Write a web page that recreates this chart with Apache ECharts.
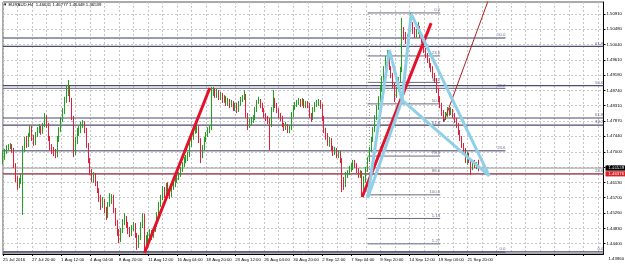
<!DOCTYPE html>
<html><head><meta charset="utf-8">
<script src="https://cdn.jsdelivr.net/npm/echarts@6/dist/echarts.min.js"></script>
<style>html,body{margin:0;padding:0;background:#fff}#c{width:625px;height:269px}</style>
</head><body><div id="c"></div>
<script>
const headerText = '\u25BC EURAUD,H4  1.46641 1.46777 1.46448 1.46539';
const timeLabels = ['25 Jul 2016','27 Jul 20:00','1 Aug 12:00','4 Aug 04:00','8 Aug 20:00','11 Aug 12:00','16 Aug 04:00','18 Aug 20:00','23 Aug 12:00','26 Aug 04:00','30 Aug 20:00','2 Sep 12:00','7 Sep 04:00','9 Sep 20:00','14 Sep 12:00','19 Sep 04:00','21 Sep 20:00'];
const barsPerTimeLabel = 16;
const barsPerGridLine = 8;
const slotCount = 332;
const priceTicks = [1.43960,1.44400,1.44830,1.45260,1.45700,1.46130,1.46570,1.47000,1.47440,1.47870,1.48310,1.48740,1.49180,1.49610,1.50040,1.50480,1.50910];
const priceMin = 1.44102, priceMax = 1.51250;

const opens = [1.4671,1.4683,1.4700,1.4711,1.4717,1.4719,1.4705,1.4663,1.4626,1.4606,
1.4620,1.4631,1.4705,1.4734,1.4719,1.4748,1.4768,1.4739,1.4725,1.4748,
1.4762,1.4768,1.4756,1.4776,1.4796,1.4776,1.4739,1.4714,1.4705,1.4700,
1.4691,1.4734,1.4762,1.4790,1.4813,1.4847,1.4870,1.4881,1.4847,1.4796,
1.4705,1.4734,1.4756,1.4762,1.4776,1.4782,1.4762,1.4719,1.4677,1.4643,
1.4626,1.4634,1.4612,1.4592,1.4569,1.4549,1.4563,1.4535,1.4521,1.4549,
1.4569,1.4575,1.4535,1.4501,1.4473,1.4450,1.4478,1.4501,1.4512,1.4492,
1.4478,1.4470,1.4484,1.4492,1.4464,1.4436,1.4456,1.4492,1.4521,1.4436,
1.4456,1.4464,1.4473,1.4461,1.4478,1.4492,1.4521,1.4549,1.4569,1.4592,
1.4578,1.4606,1.4592,1.4578,1.4597,1.4606,1.4620,1.4626,1.4634,1.4648,
1.4663,1.4677,1.4682,1.4691,1.4719,1.4739,1.4756,1.4762,1.4768,1.4734,
1.4691,1.4711,1.4734,1.4748,1.4762,1.4768,1.4870,1.4875,1.4861,1.4870,
1.4856,1.4861,1.4847,1.4853,1.4839,1.4847,1.4833,1.4841,1.4824,1.4833,
1.4819,1.4836,1.4847,1.4853,1.4861,1.4804,1.4776,1.4785,1.4790,1.4796,
1.4819,1.4841,1.4847,1.4833,1.4819,1.4804,1.4796,1.4790,1.4776,1.4819,
1.4847,1.4833,1.4819,1.4804,1.4796,1.4776,1.4768,1.4776,1.4762,1.4768,
1.4804,1.4824,1.4833,1.4839,1.4847,1.4836,1.4847,1.4830,1.4839,1.4833,
1.4804,1.4796,1.4819,1.4833,1.4839,1.4841,1.4830,1.4796,1.4762,1.4748,
1.4728,1.4734,1.4711,1.4700,1.4705,1.4691,1.4697,1.4677,1.4620,1.4606,
1.4634,1.4643,1.4648,1.4654,1.4668,1.4663,1.4648,1.4634,1.4643,1.4606,
1.4620,1.4648,1.4677,1.4705,1.4734,1.4762,1.4796,1.4824,1.4847,1.4875,
1.4904,1.4932,1.4961,1.4966,1.4938,1.4918,1.4890,1.4861,1.4875,1.4904,
1.4932,1.5046,1.5031,1.5017,1.5023,1.5046,1.5060,1.5046,1.5031,1.5040,
1.5051,1.5031,1.5017,1.4989,1.4975,1.4961,1.4946,1.4938,1.4918,1.4904,
1.4875,1.4853,1.4833,1.4813,1.4796,1.4804,1.4819,1.4813,1.4819,1.4804,
1.4790,1.4776,1.4756,1.4739,1.4719,1.4705,1.4677,1.4691,1.4677,1.4654,
1.4671,1.4663,1.46641];
const highs = [1.4705,1.4708,1.4719,1.4722,1.4725,1.4722,1.4711,1.4668,1.4631,1.4626,
1.4637,1.4717,1.4742,1.4745,1.4753,1.4776,1.4773,1.4748,1.4756,1.4770,
1.4779,1.4773,1.4782,1.4810,1.4804,1.4782,1.4745,1.4722,1.4714,1.4708,
1.4745,1.4770,1.4799,1.4824,1.4856,1.4890,1.4904,1.4887,1.4853,1.4802,
1.4742,1.4768,1.4773,1.4785,1.4790,1.4787,1.4768,1.4725,1.4682,1.4651,
1.4643,1.4640,1.4617,1.4597,1.4578,1.4572,1.4566,1.4544,1.4558,1.4583,
1.4580,1.4578,1.4541,1.4507,1.4481,1.4484,1.4509,1.4526,1.4518,1.4501,
1.4487,1.4492,1.4501,1.4498,1.4470,1.4464,1.4501,1.4526,1.4524,1.4464,
1.4473,1.4481,1.4478,1.4484,1.4501,1.4529,1.4558,1.4578,1.4603,1.4600,
1.4612,1.4614,1.4597,1.4603,1.4614,1.4626,1.4634,1.4643,1.4657,1.4671,
1.4685,1.4691,1.4700,1.4728,1.4748,1.4765,1.4770,1.4776,1.4773,1.4739,
1.4719,1.4742,1.4756,1.4770,1.4776,1.4884,1.4884,1.4881,1.4878,1.4875,
1.4870,1.4867,1.4861,1.4858,1.4853,1.4850,1.4847,1.4844,1.4839,1.4839,
1.4844,1.4856,1.4861,1.4875,1.4864,1.4810,1.4793,1.4799,1.4804,1.4827,
1.4847,1.4856,1.4850,1.4839,1.4824,1.4810,1.4802,1.4796,1.4827,1.4875,
1.4853,1.4839,1.4824,1.4810,1.4802,1.4782,1.4785,1.4779,1.4776,1.4813,
1.4833,1.4841,1.4847,1.4853,1.4850,1.4853,1.4850,1.4844,1.4844,1.4839,
1.4810,1.4827,1.4841,1.4847,1.4850,1.4847,1.4836,1.4802,1.4768,1.4753,
1.4742,1.4739,1.4717,1.4714,1.4711,1.4705,1.4702,1.4682,1.4629,1.4643,
1.4648,1.4660,1.4668,1.4677,1.4677,1.4668,1.4654,1.4648,1.4646,1.4631,
1.4657,1.4685,1.4714,1.4742,1.4770,1.4804,1.4833,1.4858,1.4887,1.4915,
1.4943,1.4972,1.4989,1.4975,1.4943,1.4924,1.4895,1.4884,1.4912,1.4941,
1.5080,1.5054,1.5040,1.5034,1.5054,1.5094,1.5068,1.5054,1.5048,1.5068,
1.5057,1.5037,1.5023,1.4995,1.4980,1.4966,1.4952,1.4943,1.4924,1.4909,
1.4881,1.4858,1.4839,1.4819,1.4813,1.4827,1.4824,1.4827,1.4822,1.4810,
1.4796,1.4782,1.4762,1.4745,1.4725,1.4711,1.4700,1.4697,1.4682,1.4677,
1.4677,1.4671,1.46777];
const lows = [1.4665,1.4677,1.4694,1.4705,1.4708,1.4697,1.4654,1.4614,1.4592,1.4597,
1.4609,1.4521,1.4700,1.4711,1.4714,1.4742,1.4731,1.4717,1.4719,1.4742,
1.4753,1.4748,1.4751,1.4770,1.4768,1.4731,1.4705,1.4694,1.4688,1.4682,
1.4685,1.4728,1.4756,1.4785,1.4807,1.4839,1.4858,1.4841,1.4790,1.4685,
1.4691,1.4722,1.4745,1.4753,1.4768,1.4753,1.4711,1.4668,1.4634,1.4614,
1.4612,1.4603,1.4583,1.4558,1.4535,1.4541,1.4526,1.4507,1.4512,1.4544,
1.4552,1.4526,1.4490,1.4461,1.4441,1.4444,1.4470,1.4492,1.4484,1.4467,
1.4458,1.4461,1.4475,1.4456,1.4422,1.4427,1.4450,1.4484,1.4416,1.4430,
1.4444,1.4453,1.4450,1.4456,1.4473,1.4487,1.4515,1.4544,1.4563,1.4569,
1.4572,1.4583,1.4566,1.4572,1.4592,1.4600,1.4612,1.4620,1.4629,1.4643,
1.4657,1.4668,1.4674,1.4685,1.4714,1.4734,1.4751,1.4753,1.4725,1.4668,
1.4682,1.4705,1.4728,1.4742,1.4753,1.4762,1.4858,1.4853,1.4853,1.4847,
1.4847,1.4839,1.4839,1.4830,1.4830,1.4824,1.4827,1.4816,1.4816,1.4810,
1.4813,1.4830,1.4841,1.4847,1.4796,1.4762,1.4768,1.4776,1.4782,1.4790,
1.4813,1.4836,1.4824,1.4813,1.4796,1.4787,1.4779,1.4705,1.4770,1.4813,
1.4824,1.4810,1.4796,1.4787,1.4770,1.4759,1.4762,1.4753,1.4753,1.4762,
1.4799,1.4819,1.4827,1.4833,1.4827,1.4830,1.4824,1.4824,1.4824,1.4796,
1.4785,1.4790,1.4813,1.4827,1.4830,1.4822,1.4787,1.4753,1.4734,1.4717,
1.4714,1.4702,1.4688,1.4691,1.4682,1.4682,1.4668,1.4586,1.4592,1.4600,
1.4626,1.4634,1.4643,1.4648,1.4654,1.4640,1.4626,1.4626,1.4572,1.4592,
1.4612,1.4643,1.4671,1.4700,1.4728,1.4756,1.4790,1.4819,1.4841,1.4870,
1.4898,1.4926,1.4949,1.4932,1.4909,1.4881,1.4841,1.4853,1.4870,1.4898,
1.4926,1.5017,1.5006,1.5009,1.5017,1.5040,1.5034,1.5023,1.5023,1.5034,
1.5023,1.5009,1.4980,1.4966,1.4952,1.4938,1.4926,1.4909,1.4895,1.4867,
1.4841,1.4824,1.4802,1.4785,1.4790,1.4799,1.4802,1.4804,1.4796,1.4782,
1.4768,1.4748,1.4731,1.4711,1.4697,1.4668,1.4663,1.4668,1.4634,1.4648,
1.4654,1.4651,1.46448];
const closes = [1.4683,1.4700,1.4711,1.4717,1.4719,1.4705,1.4663,1.4626,1.4606,1.4620,
1.4631,1.4705,1.4734,1.4719,1.4748,1.4768,1.4739,1.4725,1.4748,1.4762,
1.4768,1.4756,1.4776,1.4796,1.4776,1.4739,1.4714,1.4705,1.4700,1.4691,
1.4734,1.4762,1.4790,1.4813,1.4847,1.4870,1.4881,1.4847,1.4796,1.4705,
1.4734,1.4756,1.4762,1.4776,1.4782,1.4762,1.4719,1.4677,1.4643,1.4626,
1.4634,1.4612,1.4592,1.4569,1.4549,1.4563,1.4535,1.4521,1.4549,1.4569,
1.4575,1.4535,1.4501,1.4473,1.4450,1.4478,1.4501,1.4512,1.4492,1.4478,
1.4470,1.4484,1.4492,1.4464,1.4436,1.4456,1.4492,1.4521,1.4436,1.4456,
1.4464,1.4473,1.4461,1.4478,1.4492,1.4521,1.4549,1.4569,1.4592,1.4578,
1.4606,1.4592,1.4578,1.4597,1.4606,1.4620,1.4626,1.4634,1.4648,1.4663,
1.4677,1.4682,1.4691,1.4719,1.4739,1.4756,1.4762,1.4768,1.4734,1.4691,
1.4711,1.4734,1.4748,1.4762,1.4768,1.4870,1.4875,1.4861,1.4870,1.4856,
1.4861,1.4847,1.4853,1.4839,1.4847,1.4833,1.4841,1.4824,1.4833,1.4819,
1.4836,1.4847,1.4853,1.4861,1.4804,1.4776,1.4785,1.4790,1.4796,1.4819,
1.4841,1.4847,1.4833,1.4819,1.4804,1.4796,1.4790,1.4776,1.4819,1.4847,
1.4833,1.4819,1.4804,1.4796,1.4776,1.4768,1.4776,1.4762,1.4768,1.4804,
1.4824,1.4833,1.4839,1.4847,1.4836,1.4847,1.4830,1.4839,1.4833,1.4804,
1.4796,1.4819,1.4833,1.4839,1.4841,1.4830,1.4796,1.4762,1.4748,1.4728,
1.4734,1.4711,1.4700,1.4705,1.4691,1.4697,1.4677,1.4620,1.4606,1.4634,
1.4643,1.4648,1.4654,1.4668,1.4663,1.4648,1.4634,1.4643,1.4606,1.4620,
1.4648,1.4677,1.4705,1.4734,1.4762,1.4796,1.4824,1.4847,1.4875,1.4904,
1.4932,1.4961,1.4966,1.4938,1.4918,1.4890,1.4861,1.4875,1.4904,1.4932,
1.5046,1.5031,1.5017,1.5023,1.5046,1.5060,1.5046,1.5031,1.5040,1.5051,
1.5031,1.5017,1.4989,1.4975,1.4961,1.4946,1.4938,1.4918,1.4904,1.4875,
1.4853,1.4833,1.4813,1.4796,1.4804,1.4819,1.4813,1.4819,1.4804,1.4790,
1.4776,1.4756,1.4739,1.4719,1.4705,1.4677,1.4691,1.4677,1.4654,1.4671,
1.4663,1.46641,1.46539];

// horizontal price lines
const bidPrice = 1.46539;
const redLinePrice = 1.46376;
// Fibonacci objects: [fromBar, toBar], level texts, level prices
const fibASpan = [0, 277];
const fibALevels = ['0.0','23.6','38.2','50.0'];
const fibAPrices = [1.4416, 1.4703, 1.4880, 1.5023];
const fibBSpan = [0, 331];
const fibBLevels = ['0.0','23.6','38.2','61.8','50.0','61.8'];
const fibBPrices = [1.4416, 1.46376, 1.4776, 1.4796, 1.4888, 1.4999];
const fibCSpan = [201, 241];
const fibCLevels = ['0.0','23.6','38.2','50.0','61.8','78.6','88.6','100.0','1.13','1.27'];
const fibCPrices = [1.5094, 1.4972, 1.4897, 1.4836, 1.4775, 1.4688, 1.4637, 1.4578, 1.4511, 1.4439];
const fibCAnchorBar = 202;
const fibCAnchorPrices = [1.5094, 1.4569];
// trend lines (bar index, price)
const redTrend1 = [[78, 1.4413], [114, 1.4881]];
const redTrend2 = [[198, 1.4572], [236, 1.5065]];
const thinRedRay = [[243, 1.4785], [268, 1.5137]];
// harmonic pattern X A B C D
const patternBars = [201, 213, 220, 225, 268];
const patternPrices = [1.4569, 1.4989, 1.4847, 1.5091, 1.4632];
const patternLegs = [[0,1],[1,2],[0,2],[2,3],[3,4],[2,4]];

const slots = Array.from({length: slotCount}, (_, i) => String(i));
const candles = opens.map((o, i) => [o, closes[i], lows[i], highs[i]]);

const FONT = 'Liberation Sans';
const FS = 4.3;
const fibColor = '#4c4c70';

function seg(name, pts, color, width, type, z) {
  return { type: 'line', name, data: pts, symbol: 'none', silent: true, animation: false,
    lineStyle: { color, width, type: type || 'solid' }, z: z, clip: true };
}
const series = [];
function fibSeries(span, levels, prices, color, width) {
  prices.forEach((p, k) => {
    series.push(seg('fib', [[span[0], p], [span[1], p]], color, width, 'solid', 2));
  });
  series.push({
    type: 'scatter', symbolSize: 0.01, silent: true, animation: false, z: 6,
    itemStyle: { color: 'rgba(0,0,0,0)' },
    data: prices.map((p, k) => ({ value: [span[1], p], label: { formatter: levels[k] } })),
    label: { show: true, position: 'left', distance: 0, offset: [0, -3], fontSize: FS, fontFamily: FONT, color: '#45456a' }
  });
}
fibSeries(fibASpan, fibALevels, fibAPrices, '#7a7a98', 1.4);
fibSeries(fibBSpan, fibBLevels, fibBPrices, fibColor, 1.2);
fibSeries(fibCSpan, fibCLevels, fibCPrices, '#6a6a80', 1);
series.push(seg('fibCanchor', [[fibCAnchorBar, fibCAnchorPrices[0]], [fibCAnchorBar, fibCAnchorPrices[1]]], '#8a8a8a', 1, [1, 2], 2));
series.push(seg('bid', [[0, bidPrice], [slotCount - 1, bidPrice]], '#9a9a9a', 1, 'solid', 2));
series.push(seg('redline', [[0, redLinePrice], [slotCount - 1, redLinePrice]], '#d05050', 1, 'solid', 2));

series.push({
  type: 'candlestick', data: candles, barWidth: 0.9, z: 4, animation: false,
  itemStyle: { color: '#1fa01f', color0: '#e0203a', borderColor: '#1fa01f', borderColor0: '#e0203a', borderWidth: 1 }
});

series.push(seg('r1', redTrend1, '#e5102c', 3, 'solid', 7));
series.push(seg('r2', redTrend2, '#e5102c', 3, 'solid', 7));
series.push(seg('r3', thinRedRay, '#b02020', 1, 'solid', 7));
patternLegs.forEach(([a, b]) => {
  series.push(seg('pat', [[patternBars[a], patternPrices[a]], [patternBars[b], patternPrices[b]]], '#8fd0e8', 3, 'solid', 8));
});

const chart = echarts.init(document.getElementById('c'), null, { renderer: 'canvas' });
chart.setOption({
  animation: false,
  backgroundColor: '#ffffff',
  title: { text: headerText, left: 3, top: 2.5, padding: 0,
    textStyle: { fontSize: FS, fontWeight: 'normal', color: '#000', fontFamily: FONT } },
  grid: { left: 3, right: 19.5, top: 2, bottom: 15, show: true, borderColor: '#555', borderWidth: 1 },
  xAxis: {
    type: 'category', data: slots, boundaryGap: false,
    axisLine: { show: true, lineStyle: { color: '#000', width: 1 } },
    axisTick: { show: true, interval: (i) => i % barsPerTimeLabel === 0, length: 2, lineStyle: { color: '#000' } },
    axisLabel: { show: true, interval: (i) => i % barsPerTimeLabel === 0 && (i / barsPerTimeLabel) < timeLabels.length,
      formatter: (v, i) => timeLabels[i / barsPerTimeLabel] || '', align: 'left', fontSize: FS, fontFamily: FONT, color: '#000', margin: 4 },
    splitLine: { show: true, interval: (i) => i % barsPerGridLine === 0, lineStyle: { color: '#c6c6c6', type: [2, 2], width: 1 } }
  },
  yAxis: {
    type: 'value', position: 'right', min: priceMin, max: priceMax,
    axisLine: { show: true, lineStyle: { color: '#000', width: 1 } },
    axisTick: { show: true, customValues: priceTicks, length: 2, lineStyle: { color: '#000' } },
    axisLabel: { show: true, customValues: priceTicks, formatter: (v) => v.toFixed(5), fontSize: FS, fontFamily: FONT, color: '#000', margin: 3 },
    splitLine: { show: true, lineStyle: { color: '#c6c6c6', type: [2, 2], width: 1 } }
  },
  series
});

// price tags on the right axis and the off-range bottom label
const gridRight = 625 - 19.5;
const yBid = chart.convertToPixel({ yAxisIndex: 0 }, bidPrice);
const yRed = chart.convertToPixel({ yAxisIndex: 0 }, redLinePrice);
const yLow = chart.convertToPixel({ yAxisIndex: 0 }, priceTicks[0]);
function tag(y, txt, bg) {
  return { type: 'group', children: [
    { type: 'rect', shape: { x: gridRight, y: y - 2.6, width: 625 - gridRight, height: 5.2 }, style: { fill: bg } },
    { type: 'text', x: gridRight + 3, y: y, style: { text: txt, fill: '#fff', fontSize: FS, fontFamily: FONT, verticalAlign: 'middle' } }
  ] };
}
chart.setOption({ graphic: [
  tag(yRed, redLinePrice.toFixed(5), '#e02020'),
  tag(yBid, bidPrice.toFixed(5), '#000000'),
  { type: 'text', x: gridRight + 3, y: yLow, style: { text: priceTicks[0].toFixed(5), fill: '#000', fontSize: FS, fontFamily: FONT, verticalAlign: 'middle' } }
] });
</script>
</body></html>
